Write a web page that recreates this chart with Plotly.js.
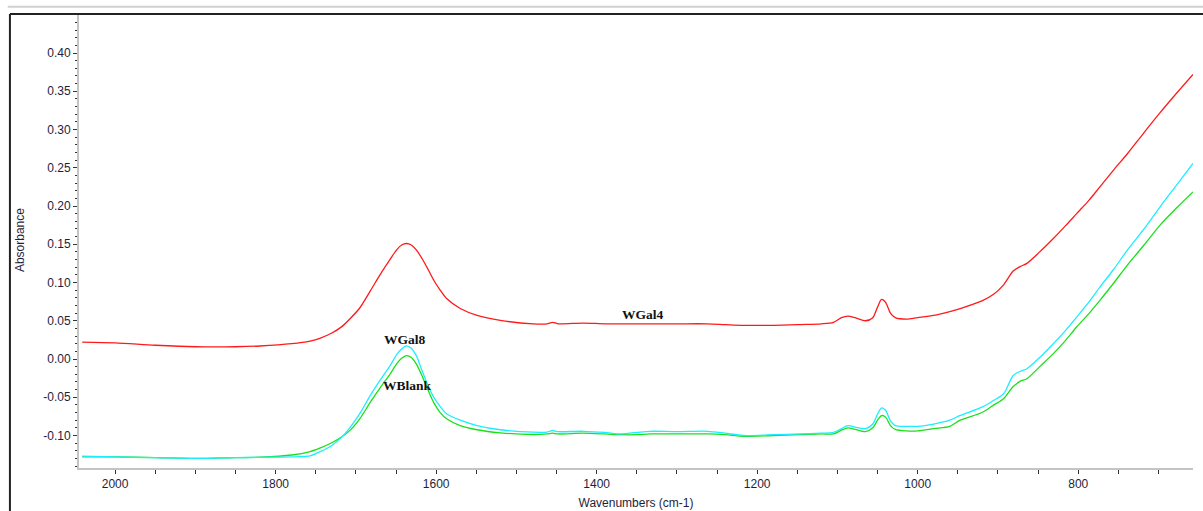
<!DOCTYPE html>
<html>
<head>
<meta charset="utf-8">
<script src="https://cdn.plot.ly/plotly-3.0.1.min.js"></script>
<style>
  html, body { margin: 0; padding: 0; background: #ffffff; }
  #chart { width: 1203px; height: 511px; }
</style>
</head>
<body>
<div id="chart"></div>
<script>
// Wavenumbers (cm-1), shared by all three spectra
const wavenumbers = [2041, 2000, 1950, 1900, 1850, 1820, 1780, 1757, 1745, 1730, 1718, 1707, 1695, 1682, 1670, 1657, 1649, 1643, 1637, 1631, 1625, 1618, 1610, 1603, 1595, 1587, 1570, 1549, 1520, 1479, 1462, 1455, 1448, 1417, 1390, 1370, 1350, 1333, 1300, 1262, 1240, 1217, 1180, 1146, 1120, 1105, 1095, 1087, 1078, 1065, 1056, 1050, 1045, 1040, 1034, 1028, 1014, 1000, 980, 960, 947, 920, 905, 893, 881, 872, 864, 848, 831, 816, 802, 787, 773, 756, 739, 718, 698, 677, 657];

// WGal4 (red)
const wgal4 = [0.022, 0.021, 0.018, 0.016, 0.016, 0.017, 0.020, 0.0235, 0.027, 0.034, 0.042, 0.053, 0.067, 0.089, 0.110, 0.131, 0.143, 0.149, 0.151, 0.149, 0.143, 0.132, 0.117, 0.103, 0.090, 0.079, 0.066, 0.057, 0.0505, 0.046, 0.046, 0.048, 0.046, 0.047, 0.046, 0.046, 0.046, 0.046, 0.046, 0.046, 0.045, 0.044, 0.044, 0.045, 0.046, 0.048, 0.054, 0.056, 0.054, 0.050, 0.054, 0.068, 0.078, 0.074, 0.060, 0.054, 0.052, 0.054, 0.057, 0.062, 0.066, 0.076, 0.085, 0.097, 0.115, 0.121, 0.125, 0.140, 0.1575, 0.174, 0.190, 0.207, 0.225, 0.247, 0.268, 0.296, 0.322, 0.348, 0.372];

// WGal8 (cyan)
const wgal8 = [-0.127, -0.128, -0.129, -0.130, -0.129, -0.1285, -0.128, -0.1265, -0.1215, -0.113, -0.1025, -0.089, -0.071, -0.0476, -0.028, -0.008, 0.006, 0.013, 0.0172, 0.014, 0.005, -0.014, -0.035, -0.050, -0.062, -0.0716, -0.080, -0.087, -0.0925, -0.0957, -0.0955, -0.0935, -0.095, -0.0945, -0.096, -0.098, -0.096, -0.0945, -0.095, -0.0945, -0.097, -0.100, -0.099, -0.098, -0.097, -0.096, -0.091, -0.087, -0.089, -0.091, -0.085, -0.072, -0.064, -0.067, -0.081, -0.087, -0.088, -0.088, -0.085, -0.080, -0.0738, -0.063, -0.054, -0.0454, -0.0215, -0.016, -0.0127, 0.002, 0.020, 0.037, 0.0548, 0.074, 0.094, 0.117, 0.142, 0.170, 0.199, 0.228, 0.2556];

// WBlank (green)
const wblank = [-0.128, -0.128, -0.129, -0.130, -0.129, -0.1284, -0.1255, -0.121, -0.1165, -0.1095, -0.102, -0.093, -0.078, -0.0564, -0.038, -0.019, -0.006, 0.001, 0.0045, 0.002, -0.006, -0.021, -0.041, -0.057, -0.070, -0.078, -0.087, -0.0925, -0.0965, -0.0987, -0.098, -0.097, -0.098, -0.097, -0.098, -0.099, -0.099, -0.098, -0.098, -0.098, -0.099, -0.101, -0.100, -0.099, -0.098, -0.098, -0.093, -0.090, -0.092, -0.095, -0.090, -0.080, -0.074, -0.076, -0.087, -0.092, -0.094, -0.094, -0.091, -0.088, -0.080, -0.070, -0.060, -0.052, -0.036, -0.029, -0.0258, -0.010, 0.007, 0.024, 0.0418, 0.059, 0.0767, 0.099, 0.1225, 0.149, 0.175, 0.198, 0.2185];

// Series labels and their label anchor points
const seriesNames = ["WGal4", "WGal8", "WBlank"];
const labelX = [1342, 1639, 1636];
const labelY = [0.0586, 0.0257, -0.0352];

// Tick labels
const yTickVals = [-0.10, -0.05, 0.00, 0.05, 0.10, 0.15, 0.20, 0.25, 0.30, 0.35, 0.40];
const yTickText = ["-0.10", "-0.05", "0.00", "0.05", "0.10", "0.15", "0.20", "0.25", "0.30", "0.35", "0.40"];
const xTickVals = [2000, 1800, 1600, 1400, 1200, 1000, 800];
const xTickText = ["2000", "1800", "1600", "1400", "1200", "1000", "800"];

const colors = ["#ff1a1a", "#1aeeff", "#1ae01a"];
const seriesData = [wgal4, wgal8, wblank];

const order = [2, 1, 0];
const traces = order.map(i => ({
  x: wavenumbers,
  y: seriesData[i],
  type: "scatter",
  mode: "lines",
  name: seriesNames[i],
  line: { color: colors[i], width: 1.3, shape: "spline", smoothing: 0.8 },
  hoverinfo: "x+y+name"
}));

const textColor = "#1e1e3c";
const sans = "Liberation Sans, Arial, sans-serif";
const tickFont = { family: sans, size: 12, color: textColor };

const annotations = seriesNames.map((n, i) => ({
  x: labelX[i],
  y: labelY[i],
  xref: "x",
  yref: "y",
  text: "<b>" + n + "</b>",
  showarrow: false,
  font: { family: "Liberation Serif, Times New Roman, serif", size: 13.5, color: "#111111" }
}));
annotations.push({
  x: -0.053, y: 0.503, xref: "paper", yref: "paper",
  xanchor: "center", yanchor: "middle",
  text: "Absorbance", textangle: -90, showarrow: false,
  font: { family: sans, size: 12, color: textColor }
});

const layout = {
  width: 1203,
  height: 511,
  margin: { l: 79, r: 10, t: 15, b: 43, pad: 0 },
  paper_bgcolor: "#ffffff",
  plot_bgcolor: "#ffffff",
  showlegend: false,
  xaxis: {
    range: [2045, 657],
    tickmode: "array",
    tickvals: xTickVals,
    ticktext: xTickText,
    ticks: "outside",
    ticklen: 4,
    tickwidth: 1,
    tickcolor: "#333333",
    minor: { tickmode: "linear", tick0: 0, dtick: 50, ticks: "outside", ticklen: 4, tickcolor: "#333333", showgrid: false },
    showgrid: false,
    zeroline: false,
    showline: true,
    linecolor: "#c4c4c4",
    linewidth: 2,
    tickfont: tickFont,
    title: { text: "Wavenumbers (cm-1)", font: { family: sans, size: 12, color: textColor }, standoff: 8 }
  },
  yaxis: {
    range: [-0.1425, 0.4497],
    tickmode: "array",
    tickvals: yTickVals,
    ticktext: yTickText,
    ticks: "outside",
    ticklen: 4,
    tickwidth: 1,
    tickcolor: "#333333",
    minor: { tickmode: "linear", tick0: 0, dtick: 0.01, ticks: "outside", ticklen: 2, tickcolor: "#333333", showgrid: false },
    showgrid: false,
    zeroline: false,
    showline: true,
    linecolor: "#c4c4c4",
    linewidth: 2,
    tickfont: tickFont
  },
  annotations: annotations,
  shapes: [
    { type: "line", xref: "paper", yref: "paper", x0: -0.064, x1: 1.02, y0: 1.018, y1: 1.018, line: { color: "#d0d0d0", width: 2 } },
    { type: "line", xref: "paper", yref: "paper", x0: -0.062, x1: 1.02, y0: 1.002, y1: 1.002, line: { color: "#222222", width: 2 } },
    { type: "line", xref: "paper", yref: "paper", x0: -0.062, x1: -0.062, y0: 1.002, y1: -0.12, line: { color: "#222222", width: 2 } }
  ]
};

Plotly.newPlot("chart", traces, layout, { staticPlot: true, displayModeBar: false });
</script>
</body>
</html>
